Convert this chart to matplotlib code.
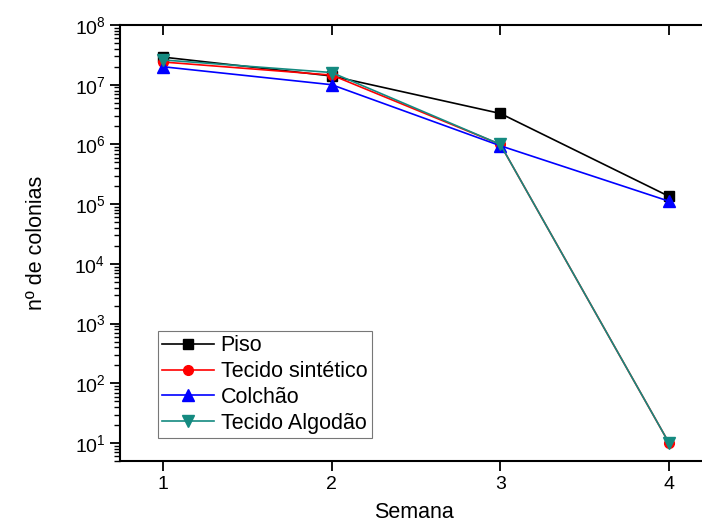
import matplotlib.pyplot as plt
from matplotlib.ticker import NullFormatter

plt.rcParams['font.family'] = ['Liberation Sans', 'DejaVu Sans']
plt.rcParams['mathtext.default'] = 'regular'

# dados
semanas = [1, 2, 3, 4]
piso = [2.9e7, 1.4e7, 3.3e6, 1.35e5]
tecido_sintetico = [2.4e7, 1.45e7, 1.0e6, 10]
colchao = [2.0e7, 1.0e7, 9.5e5, 1.12e5]
tecido_algodao = [2.6e7, 1.6e7, 1.0e6, 10]
decadas = list(range(1, 9))

W, H = 702, 526
fig = plt.figure(figsize=(W / 100, H / 100), dpi=100)
# eixo vai um pouco além da borda direita (como no original)
x0, x1, y_top, y_bot = 120, 707, 25, 461
ax = fig.add_axes([x0 / W, (H - y_bot) / H, (x1 - x0) / W, (y_bot - y_top) / H])

ax.plot(semanas, piso, color='black', marker='s', ms=6.5, lw=1.2, label='Piso')
ax.plot(semanas, tecido_sintetico, color='#ff0000', marker='o', ms=7, lw=1.2, label='Tecido sintético')
ax.plot(semanas, colchao, color='#0000ff', marker='^', ms=8, lw=1.2, label='Colchão')
ax.plot(semanas, tecido_algodao, color='#148a80', marker='v', ms=8, lw=1.2, label='Tecido Algodão')

ax.set_yscale('log')
ax.set_ylim(5, 1e8)
ax.set_xlim(0.745, 4.225)
ax.set_xticks(semanas)
ax.set_yticks([10.0 ** d for d in decadas], [f'$10^{{{d}}}$' for d in decadas])
minor = [m * 10.0 ** d for d in range(0, 8) for m in range(2, 10) if 5 <= m * 10.0 ** d <= 1e8]
ax.set_yticks(minor, minor=True)
ax.yaxis.set_minor_formatter(NullFormatter())

for s in ax.spines.values():
    s.set_linewidth(1.5)

ax.tick_params(axis='both', which='major', labelsize=14, width=1.3)
ax.tick_params(axis='x', which='major', bottom=True, top=True, length=7, direction='out')
for t in ax.xaxis.get_major_ticks():
    t.tick2line.set_marker(3)  # tick de cima para dentro
ax.tick_params(axis='y', which='major', left=True, right=True, length=7, direction='out')
ax.tick_params(axis='y', which='minor', left=True, right=False, length=4, width=1, direction='out')
for t in ax.yaxis.get_major_ticks():
    t.tick2line.set_marker(1)  # tick da direita para dentro

ax.set_xlabel('Semana', fontsize=15.5, labelpad=7)
ax.set_ylabel('nº de colonias', fontsize=15.5, labelpad=20)

leg = ax.legend(loc='lower left', bbox_to_anchor=(0.065, 0.053), borderaxespad=0,
                fontsize=15.5, frameon=True, fancybox=False, edgecolor='#555555',
                handlelength=2.4, handletextpad=0.3, labelspacing=0.22, borderpad=0.2)
leg.get_frame().set_linewidth(0.8)

fig.savefig('out.png', dpi=100)
